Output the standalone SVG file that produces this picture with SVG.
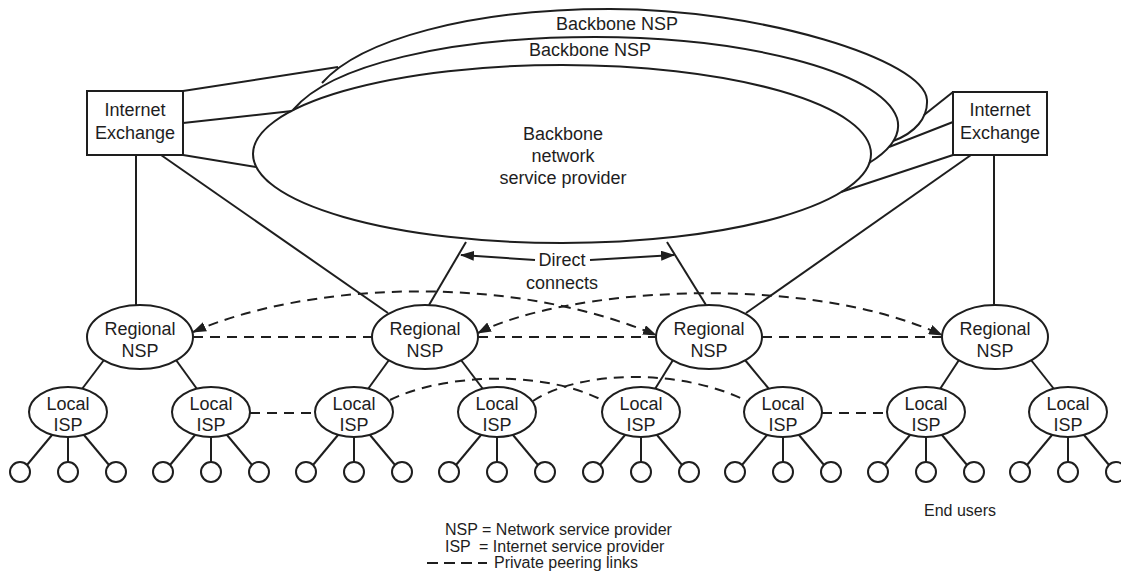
<svg xmlns="http://www.w3.org/2000/svg" width="1121" height="583" viewBox="0 0 1121 583">
<style>
.s{fill:none;stroke:#1e1e1e;stroke-width:2}
.n{fill:#fff;stroke:#1e1e1e;stroke-width:2}
.d{fill:none;stroke:#1e1e1e;stroke-width:2;stroke-dasharray:10 7}
.t{font-family:"Liberation Sans",Arial,sans-serif;font-size:18px;fill:#1e1e1e;text-anchor:middle}
.lg{font-family:"Liberation Sans",Arial,sans-serif;font-size:16px;fill:#1e1e1e}
</style>
<defs>
<marker id="ah" markerUnits="userSpaceOnUse" markerWidth="14" markerHeight="10" refX="13" refY="5" orient="auto-start-reverse" viewBox="0 0 14 10">
<path d="M0,0 L14,5 L0,10 z" fill="#1e1e1e"/>
</marker>
</defs>
<rect width="1121" height="583" fill="#fff"/>

<g id="connectors">
<line class="s" x1="183" y1="91" x2="338" y2="67"/>
<line class="s" x1="183" y1="123" x2="292" y2="111"/>
<line class="s" x1="183" y1="155" x2="256" y2="167"/>
<line class="s" x1="953" y1="92" x2="924" y2="115"/>
<line class="s" x1="953" y1="122" x2="889" y2="147"/>
<line class="s" x1="953" y1="155" x2="841" y2="192"/>
<line class="s" x1="136" y1="155" x2="136" y2="305"/>
<line class="s" x1="161" y1="155" x2="388" y2="313"/>
<line class="s" x1="994" y1="155" x2="994" y2="305"/>
<line class="s" x1="971" y1="155" x2="746" y2="313"/>
<line class="s" x1="466" y1="242" x2="429" y2="305"/>
<line class="s" x1="667" y1="242" x2="706" y2="305"/>
<line class="s" x1="535" y1="260" x2="461" y2="255" marker-end="url(#ah)"/>
<line class="s" x1="590" y1="260" x2="674" y2="255" marker-end="url(#ah)"/>
<line class="s" x1="104" y1="360" x2="82" y2="389"/>
<line class="s" x1="176" y1="360" x2="197" y2="389"/>
<line class="s" x1="389" y1="360" x2="368" y2="389"/>
<line class="s" x1="461" y1="360" x2="483" y2="389"/>
<line class="s" x1="673" y1="360" x2="655" y2="389"/>
<line class="s" x1="745" y1="360" x2="769" y2="389"/>
<line class="s" x1="959" y1="360" x2="940" y2="389"/>
<line class="s" x1="1031" y1="360" x2="1054" y2="389"/>
<line class="d" x1="193" y1="337" x2="372" y2="337"/>
<line class="d" x1="478" y1="337" x2="656" y2="337"/>
<line class="d" x1="762" y1="337" x2="942" y2="337"/>
<path class="d" d="M193,332 C300,285 500,270 656,335" marker-start="url(#ah)" marker-end="url(#ah)"/>
<path class="d" d="M478,333 C560,290 800,270 942,335" marker-start="url(#ah)" marker-end="url(#ah)"/>
<line class="d" x1="250" y1="413" x2="315" y2="413"/>
<line class="d" x1="822" y1="413" x2="887" y2="413"/>
<path class="d" d="M390,400 C440,375 540,368 604,401"/>
<path class="d" d="M533,401 C580,370 680,368 747,401"/>
</g>

<g id="backbone-nsp">
<ellipse class="s" cx="562" cy="154" rx="309" ry="89"/>
<path class="s" d="M293,110 C330,65 450,37 595,37 C740,37 880,70 897,118 C902,135 890,150 869,163"/>
<path class="s" d="M322,83 C360,40 470,9 610,9 C760,9 925,60 927,100 C928,118 915,133 893,141"/>
<text class="t" x="617" y="30">Backbone NSP</text>
<text class="t" x="590" y="56">Backbone NSP</text>
<text class="t" x="563" y="140">Backbone</text>
<text class="t" x="563" y="162">network</text>
<text class="t" x="563" y="184">service provider</text>
</g>

<g id="direct-connects-label">
<text class="t" x="562" y="266">Direct</text>
<text class="t" x="562" y="289">connects</text>
</g>

<g id="ix-left">
<rect class="n" x="87" y="91" width="96" height="64"/>
<text class="t" x="135" y="116">Internet</text>
<text class="t" x="135" y="139">Exchange</text>
</g>
<g id="ix-right">
<rect class="n" x="953" y="92" width="94" height="63"/>
<text class="t" x="1000" y="116">Internet</text>
<text class="t" x="1000" y="139">Exchange</text>
</g>

<g id="regional-1"><ellipse class="n" cx="140" cy="337" rx="53" ry="32"/><text class="t" x="140" y="335">Regional</text><text class="t" x="140" y="357">NSP</text></g>
<g id="regional-2"><ellipse class="n" cx="425" cy="337" rx="53" ry="32"/><text class="t" x="425" y="335">Regional</text><text class="t" x="425" y="357">NSP</text></g>
<g id="regional-3"><ellipse class="n" cx="709" cy="337" rx="53" ry="32"/><text class="t" x="709" y="335">Regional</text><text class="t" x="709" y="357">NSP</text></g>
<g id="regional-4"><ellipse class="n" cx="995" cy="337" rx="53" ry="32"/><text class="t" x="995" y="335">Regional</text><text class="t" x="995" y="357">NSP</text></g>

<g id="local-1"><ellipse class="n" cx="68" cy="412" rx="39" ry="25"/><text class="t" x="68" y="410">Local</text><text class="t" x="68" y="431">ISP</text></g>
<g id="local-2"><ellipse class="n" cx="211" cy="412" rx="39" ry="25"/><text class="t" x="211" y="410">Local</text><text class="t" x="211" y="431">ISP</text></g>
<g id="local-3"><ellipse class="n" cx="354" cy="412" rx="39" ry="25"/><text class="t" x="354" y="410">Local</text><text class="t" x="354" y="431">ISP</text></g>
<g id="local-4"><ellipse class="n" cx="497" cy="412" rx="39" ry="25"/><text class="t" x="497" y="410">Local</text><text class="t" x="497" y="431">ISP</text></g>
<g id="local-5"><ellipse class="n" cx="641" cy="412" rx="39" ry="25"/><text class="t" x="641" y="410">Local</text><text class="t" x="641" y="431">ISP</text></g>
<g id="local-6"><ellipse class="n" cx="783" cy="412" rx="39" ry="25"/><text class="t" x="783" y="410">Local</text><text class="t" x="783" y="431">ISP</text></g>
<g id="local-7"><ellipse class="n" cx="926" cy="412" rx="39" ry="25"/><text class="t" x="926" y="410">Local</text><text class="t" x="926" y="431">ISP</text></g>
<g id="local-8"><ellipse class="n" cx="1068" cy="412" rx="39" ry="25"/><text class="t" x="1068" y="410">Local</text><text class="t" x="1068" y="431">ISP</text></g>

<g id="end-users">
<g transform="translate(68,0)"><line class="s" x1="-16" y1="435" x2="-41" y2="465"/><line class="s" x1="0" y1="437" x2="0" y2="462"/><line class="s" x1="16" y1="435" x2="41" y2="465"/><circle class="n" cx="-48" cy="472" r="10"/><circle class="n" cx="0" cy="472" r="10"/><circle class="n" cx="48" cy="472" r="10"/></g>
<g transform="translate(211,0)"><line class="s" x1="-16" y1="435" x2="-41" y2="465"/><line class="s" x1="0" y1="437" x2="0" y2="462"/><line class="s" x1="16" y1="435" x2="41" y2="465"/><circle class="n" cx="-48" cy="472" r="10"/><circle class="n" cx="0" cy="472" r="10"/><circle class="n" cx="48" cy="472" r="10"/></g>
<g transform="translate(354,0)"><line class="s" x1="-16" y1="435" x2="-41" y2="465"/><line class="s" x1="0" y1="437" x2="0" y2="462"/><line class="s" x1="16" y1="435" x2="41" y2="465"/><circle class="n" cx="-48" cy="472" r="10"/><circle class="n" cx="0" cy="472" r="10"/><circle class="n" cx="48" cy="472" r="10"/></g>
<g transform="translate(497,0)"><line class="s" x1="-16" y1="435" x2="-41" y2="465"/><line class="s" x1="0" y1="437" x2="0" y2="462"/><line class="s" x1="16" y1="435" x2="41" y2="465"/><circle class="n" cx="-48" cy="472" r="10"/><circle class="n" cx="0" cy="472" r="10"/><circle class="n" cx="48" cy="472" r="10"/></g>
<g transform="translate(641,0)"><line class="s" x1="-16" y1="435" x2="-41" y2="465"/><line class="s" x1="0" y1="437" x2="0" y2="462"/><line class="s" x1="16" y1="435" x2="41" y2="465"/><circle class="n" cx="-48" cy="472" r="10"/><circle class="n" cx="0" cy="472" r="10"/><circle class="n" cx="48" cy="472" r="10"/></g>
<g transform="translate(783,0)"><line class="s" x1="-16" y1="435" x2="-41" y2="465"/><line class="s" x1="0" y1="437" x2="0" y2="462"/><line class="s" x1="16" y1="435" x2="41" y2="465"/><circle class="n" cx="-48" cy="472" r="10"/><circle class="n" cx="0" cy="472" r="10"/><circle class="n" cx="48" cy="472" r="10"/></g>
<g transform="translate(926,0)"><line class="s" x1="-16" y1="435" x2="-41" y2="465"/><line class="s" x1="0" y1="437" x2="0" y2="462"/><line class="s" x1="16" y1="435" x2="41" y2="465"/><circle class="n" cx="-48" cy="472" r="10"/><circle class="n" cx="0" cy="472" r="10"/><circle class="n" cx="48" cy="472" r="10"/></g>
<g transform="translate(1068,0)"><line class="s" x1="-16" y1="435" x2="-41" y2="465"/><line class="s" x1="0" y1="437" x2="0" y2="462"/><line class="s" x1="16" y1="435" x2="41" y2="465"/><circle class="n" cx="-48" cy="472" r="10"/><circle class="n" cx="0" cy="472" r="10"/><circle class="n" cx="48" cy="472" r="10"/></g>
<text class="lg" x="960" y="516" text-anchor="middle">End users</text>
</g>

<g id="legend">
<text class="lg" x="445" y="535">NSP = Network service provider</text>
<text class="lg" x="445" y="552">ISP<tspan x="479">= Internet service provider</tspan></text>
<line class="d" x1="427" y1="563" x2="487" y2="563" style="stroke-dasharray:11 6"/>
<text class="lg" x="494" y="568">Private peering links</text>
</g>
</svg>
